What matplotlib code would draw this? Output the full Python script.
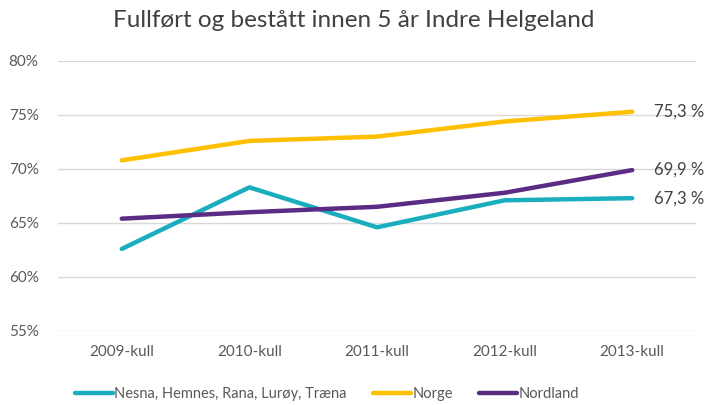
import matplotlib
matplotlib.use("Agg")
import matplotlib.pyplot as plt
from matplotlib.ticker import FuncFormatter

plt.rcParams['font.family'] = ['Lato', 'DejaVu Sans']

categories = ["2009-kull", "2010-kull", "2011-kull", "2012-kull", "2013-kull"]
nesna = [62.6, 68.3, 64.6, 67.1, 67.3]
norge = [70.8, 72.6, 73.0, 74.4, 75.3]
nordland = [65.4, 66.0, 66.5, 67.8, 69.9]
series_names = ["Nesna, Hemnes, Rana, Lurøy, Træna", "Norge", "Nordland"]
colors = ["#1AADBE", "#FFC000", "#5B2C83"]
end_labels = ["67,3 %", "75,3 %", "69,9 %"]

fig = plt.figure(figsize=(7.07, 4.05), dpi=100)
ax = fig.add_axes([58/707, (405-331)/405, (696-58)/707, (331-61)/405])

x = list(range(len(categories)))
for vals, name, c, lab in zip([nesna, norge, nordland], series_names, colors, end_labels):
    ax.plot(x, vals, color=c, lw=3.2, label=name, solid_capstyle='round')
    ax.annotate(lab, (x[-1], vals[-1]), xytext=(16, 0), textcoords='offset points',
                va='center', ha='left', fontsize=12, color='#404040', annotation_clip=False)

ax.set_xlim(-0.5, len(categories) - 0.5)
ax.set_ylim(55, 80)
ax.set_yticks([55, 60, 65, 70, 75, 80])
ax.yaxis.set_major_formatter(FuncFormatter(lambda v, p: f"{int(v)}%"))
ax.set_xticks(x)
ax.set_xticklabels(categories)
ax.grid(axis='y', color='#D9D9D9', lw=1)
ax.set_axisbelow(True)
for s in ax.spines.values():
    s.set_visible(False)
ax.tick_params(length=0, labelsize=11, colors='#595959', pad=10)
ax.tick_params(axis='y', pad=14)

fig.suptitle("Fullført og bestått innen 5 år Indre Helgeland", fontsize=17.5, color='#404040', y=0.975)
fig.legend(loc='lower left', bbox_to_anchor=(62/707, -0.022), ncol=3, frameon=False,
           fontsize=10.5, labelcolor='#595959', handlelength=2.6, handletextpad=0.1, columnspacing=1.8)

fig.savefig("out.png", dpi=100)
